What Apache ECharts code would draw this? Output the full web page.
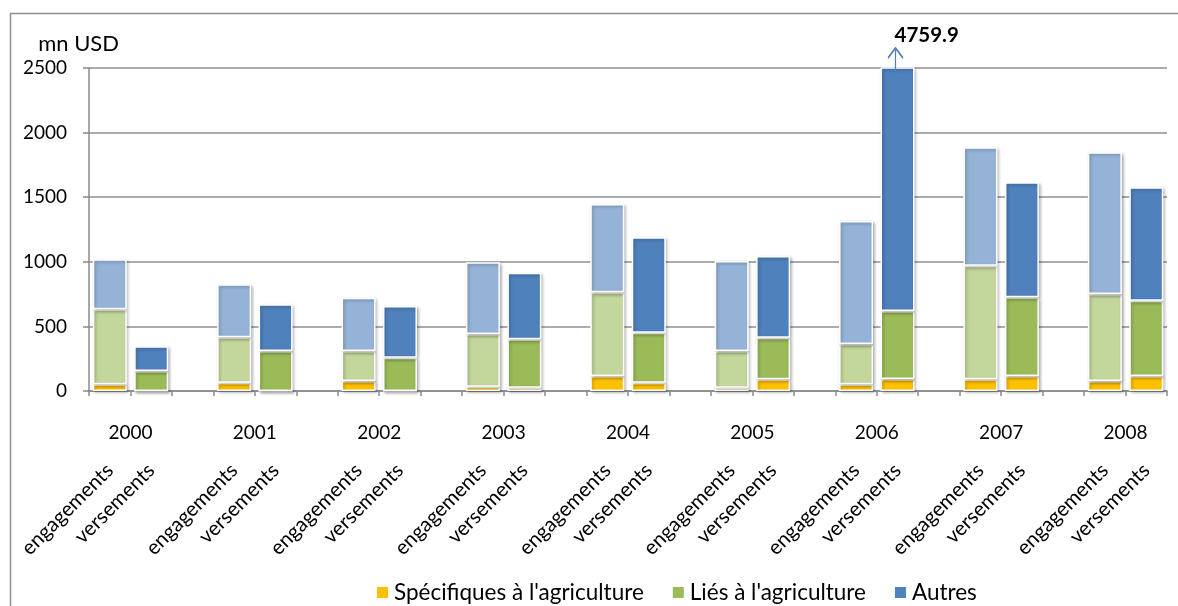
<!DOCTYPE html>
<html>
<head>
<meta charset="utf-8">
<script src="https://cdn.jsdelivr.net/npm/echarts@6/dist/echarts.min.js"></script>
<style>
html,body{margin:0;padding:0;background:#fff;}
#chart{width:1178px;height:606px;}
</style>
</head>
<body>
<div id="chart"></div>
<script>
// ---- data (mn USD) ----
const years = ['2000','2001','2002','2003','2004','2005','2006','2007','2008'];
const kinds = ['engagements','versements'];
const seriesNames = ["Spécifiques à l'agriculture", "Liés à l'agriculture", 'Autres'];
const specEng   = [52, 64, 77, 33, 116, 26, 52, 90, 77];
const specVers  = [0, 0, 0, 26, 64, 90, 93, 116, 116];
const liesEng   = [580, 352, 233, 408, 648, 284, 312, 880, 674];
const liesVers  = [155, 310, 258, 374, 387, 323, 526, 609, 583];
const autresEng = [387, 410, 412, 555, 683, 696, 952, 916, 1096];
const autresVers= [191, 361, 400, 516, 739, 632, 4140.9, 890, 878];
const yMin = 0, yMax = 2500, yStep = 500;
const yUnit = 'mn USD';
const clippedYearIndex = 6; // 2006 versements exceeds the axis

// ---- styling ----
const engColors  = ['#FFC000', '#C3D69B', '#95B3D7'];
const versColors = ['#FFC000', '#9BBB59', '#4F81BD'];
const FONT = 'Lato';

// categories: engagements, versements, gap ... (no gap after the last year)
const xCats = [];
years.forEach((y, i) => {
  kinds.forEach(k => xCats.push(k + '|' + y));
  if (i < years.length - 1) xCats.push('gap|' + y);
});
const yearAxisData = [];
for (let k = 0; k <= xCats.length; k++) yearAxisData.push('b' + k);

function buildData(engArr, versArr, s) {
  const out = [];
  years.forEach((y, i) => {
    out.push({ value: engArr[i], itemStyle: { color: engColors[s] } });
    out.push({ value: versArr[i], itemStyle: { color: versColors[s] } });
    if (i < years.length - 1) out.push('-');
  });
  return out;
}
const allSets = [[specEng, specVers], [liesEng, liesVers], [autresEng, autresVers]];

const barStyle = {
  borderColor: '#ffffff',
  borderWidth: 1.5,
  shadowBlur: 3,
  shadowColor: 'rgba(0,0,0,0.28)',
  shadowOffsetX: 1.5,
  shadowOffsetY: 1.5
};

const clippedIndex = clippedYearIndex * 3 + 1;
const clippedTotal = specVers[clippedYearIndex] + liesVers[clippedYearIndex] + autresVers[clippedYearIndex];

const series = allSets.map((pair, s) => {
  const obj = {
    name: seriesNames[s],
    type: 'bar',
    stack: 'total',
    barCategoryGap: '18%',
    clip: true,
    itemStyle: Object.assign({ color: versColors[s] }, barStyle),
    emphasis: { disabled: true },
    data: buildData(pair[0], pair[1], s)
  };
  if (s === 2) {
    obj.markPoint = {
      silent: true,
      symbol: 'path://M0,10 L7.5,0 L15,10 M7.5,0 L7.5,30',
      symbolSize: [15, 30],
      symbolKeepAspect: false,
      symbolOffset: [-2, -5],
      itemStyle: { color: 'rgba(0,0,0,0)', borderColor: '#4F81BD', borderWidth: 1.7, shadowBlur: 0 },
      label: {
        show: true,
        position: 'top',
        align: 'left',
        distance: 1,
        offset: [-1, 0],
        formatter: clippedTotal.toFixed(1),
        fontFamily: FONT,
        fontWeight: 'bold',
        fontSize: 20.5,
        color: '#000'
      },
      data: [{ coord: [clippedIndex, yMax] }]
    };
  }
  return obj;
});

const chart = echarts.init(document.getElementById('chart'), null, { renderer: 'canvas' });
chart.setOption({
  animation: false,
  backgroundColor: '#ffffff',
  textStyle: { fontFamily: FONT, color: '#000' },
  graphic: [{
    type: 'rect',
    left: 8, top: 11,
    shape: { width: 1400, height: 800 },
    style: { fill: 'none', stroke: '#8e8e8e', lineWidth: 1.5 },
    silent: true
  }],
  grid: { left: 89, right: 11, top: 68, bottom: 215, containLabel: false },
  legend: {
    data: seriesNames,
    top: 576,
    left: 370,
    itemWidth: 13,
    itemHeight: 13,
    itemGap: 27,
    icon: 'rect',
    textStyle: { fontFamily: FONT, fontSize: 22.5, color: '#000' }
  },
  xAxis: [{
    type: 'category',
    data: xCats,
    position: 'bottom',
    axisLine: { show: true, lineStyle: { color: '#8a8a8a', width: 1.5 } },
    axisTick: { show: true, interval: 0, length: 5, lineStyle: { color: '#8a8a8a', width: 1.5 } },
    axisLabel: {
      interval: 0,
      rotate: 45,
      margin: 76,
      fontFamily: FONT,
      fontSize: 20.5,
      color: '#000',
      formatter: v => { const w = v.split('|')[0]; return w === 'gap' ? '' : w; }
    },
    splitLine: { show: false }
  }, {
    type: 'category',
    data: yearAxisData,
    position: 'bottom',
    boundaryGap: false,
    axisLine: { show: false },
    axisTick: { show: false },
    axisLabel: {
      interval: 0,
      margin: 32,
      fontFamily: FONT,
      fontSize: 19,
      color: '#000',
      formatter: (v, idx) => (idx % 3 === 1 ? years[(idx - 1) / 3] : '')
    },
    splitLine: { show: false }
  }],
  yAxis: {
    type: 'value',
    min: yMin,
    max: yMax,
    interval: yStep,
    name: yUnit,
    nameLocation: 'end',
    nameGap: 13,
    nameTextStyle: { fontFamily: FONT, fontSize: 22, color: '#000', align: 'right', padding: [0, -30, 0, 0] },
    axisLine: { show: true, lineStyle: { color: '#8a8a8a', width: 1.5 } },
    axisTick: { show: true, length: 6, lineStyle: { color: '#8a8a8a', width: 1.5 } },
    axisLabel: { margin: 22, fontFamily: FONT, fontSize: 19, color: '#000', formatter: v => String(v) },
    splitLine: { show: true, lineStyle: { color: '#8f8f8f', width: 1.5 } }
  },
  series: series
});
</script>
</body>
</html>
